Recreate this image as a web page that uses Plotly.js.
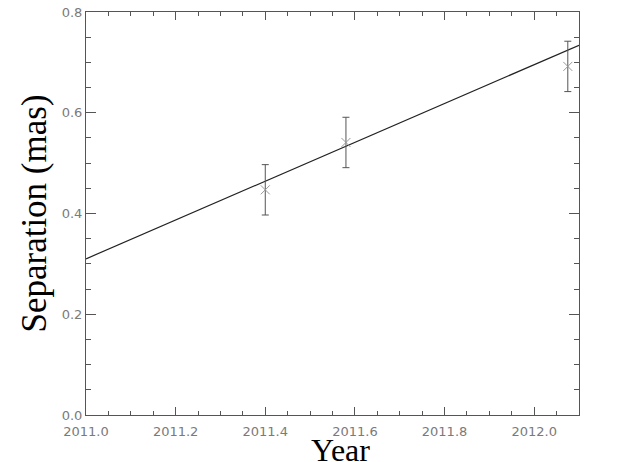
<!DOCTYPE html>
<html>
<head>
<meta charset="utf-8">
<script src="https://cdn.plot.ly/plotly-3.0.1.min.js"></script>
<style>html,body{margin:0;padding:0;background:#fff;}#chart{width:618px;height:462px;}</style>
</head>
<body>
<div id="chart"></div>
<script>
// Observed separations
const years = [2011.40, 2011.58, 2012.075];
const separation = [0.447, 0.541, 0.692];
const sepError = [0.05, 0.05, 0.05];

// Linear fit line endpoints
const fitYears = [2011.0, 2012.1];
const fitSeparation = [0.310, 0.734];

const xTickVals = [2011.0, 2011.2, 2011.4, 2011.6, 2011.8, 2012.0];
const xTickText = ['2011.0', '2011.2', '2011.4', '2011.6', '2011.8', '2012.0'];
const yTickVals = [0.0, 0.2, 0.4, 0.6, 0.8];
const yTickText = ['0.0', '0.2', '0.4', '0.6', '0.8'];
const xTitle = 'Year';
const yTitle = 'Separation (mas)';

const tickFont = {family: 'DejaVu Sans, Arial, sans-serif', size: 13, color: '#7a7a7a'};
const xTitleFont = {family: 'Liberation Serif, Times New Roman, serif', size: 32, color: '#000'};
const yTitleFont = {family: 'Liberation Serif, Times New Roman, serif', size: 35, color: '#000'};

const traces = [
  {
    x: fitYears, y: fitSeparation, mode: 'lines', type: 'scatter',
    line: {color: '#222', width: 1.2}, hoverinfo: 'skip'
  },
  {
    x: years, y: separation, mode: 'markers', type: 'scatter',
    marker: {symbol: 'x-thin-open', size: 9, color: '#999', line: {color: '#999', width: 1}},
    error_y: {type: 'data', array: sepError, visible: true, color: '#555', thickness: 1, width: 3.5}
  }
];

const axisCommon = {
  showline: true, linecolor: '#555', linewidth: 1, mirror: 'ticks',
  ticks: 'inside', tickcolor: '#555', tickwidth: 1,
  showgrid: false, zeroline: false, tickfont: tickFont
};

const layout = {
  width: 618, height: 462,
  margin: {l: 86, r: 39, t: 12, b: 47},
  paper_bgcolor: '#fff', plot_bgcolor: '#fff',
  showlegend: false,
  xaxis: Object.assign({}, axisCommon, {
    range: [2011.0, 2012.1], tickvals: xTickVals, ticktext: xTickText,
    ticklen: 8, ticklabelstandoff: 4,
    minor: {ticks: 'inside', ticklen: 4, tickcolor: '#555', showgrid: false, dtick: 0.05, tick0: 2011.0}
  }),
  yaxis: Object.assign({}, axisCommon, {
    range: [0, 0.8], tickvals: yTickVals, ticktext: yTickText,
    ticklen: 10,
    minor: {ticks: 'inside', ticklen: 5, tickcolor: '#555', showgrid: false, dtick: 0.05, tick0: 0},
    title: {text: yTitle, font: yTitleFont, standoff: 4}
  }),
  annotations: [{
    text: xTitle, xref: 'paper', yref: 'paper', x: 0.517, y: -0.086,
    xanchor: 'center', yanchor: 'middle', showarrow: false, font: xTitleFont
  }]
};

Plotly.newPlot('chart', traces, layout, {displayModeBar: false, staticPlot: true});
</script>
</body>
</html>
